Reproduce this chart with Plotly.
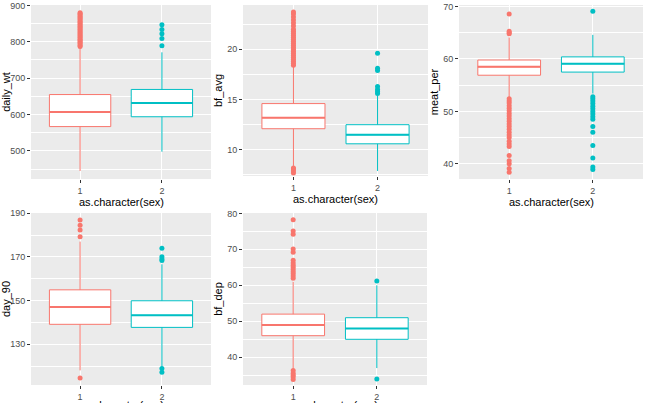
import plotly.graph_objects as go

# ---------------- data ----------------
groups = ["1", "2"]
group_pos = [1, 2]
colors = ["#F8766D", "#00BFC4"]
x_title = "as.character(sex)"

# daily_wt
daily_wt_lower = [445, 498]
daily_wt_q1 = [567, 594]
daily_wt_median = [607, 632]
daily_wt_q3 = [655, 669]
daily_wt_upper = [785, 771]
daily_wt_out_1 = [787, 790, 794, 797, 800, 804, 807, 811, 814, 818, 821, 825, 828, 832,
                  835, 839, 842, 846, 849, 853, 856, 860, 863, 867, 870, 874, 877, 880]
daily_wt_out_2 = [789, 809, 822, 834, 847]
daily_wt_ticks = [500, 600, 700, 800, 900]

# bf_avg
bf_avg_lower = [8.4, 7.9]
bf_avg_q1 = [12.1, 10.6]
bf_avg_median = [13.2, 11.5]
bf_avg_q3 = [14.6, 12.5]
bf_avg_upper = [18.3, 15.4]
bf_avg_out_1 = [7.7, 7.9, 8.1, 8.2,
                18.4, 18.6, 18.8, 19.0, 19.2, 19.4, 19.6, 19.8, 20.0, 20.2, 20.4, 20.6,
                20.8, 21.0, 21.2, 21.4, 21.6, 21.8, 22.0, 22.3, 22.6, 22.9, 23.2, 23.5, 23.7]
bf_avg_out_2 = [15.6, 15.8, 16.0, 16.3, 17.9, 18.1, 19.6]
bf_avg_ticks = [10, 15, 20]

# meat_per
meat_per_lower = [52.6, 53.4]
meat_per_q1 = [56.9, 57.5]
meat_per_median = [58.5, 59.1]
meat_per_q3 = [59.8, 60.4]
meat_per_upper = [64.1, 64.6]
meat_per_out_1 = [38.4, 39.1, 40.0, 40.6, 41.6,
                  43.3, 43.8, 44.3, 45.0, 45.5, 46.0, 46.6, 47.1, 47.6, 48.1, 48.6, 49.1,
                  49.6, 50.1, 50.6, 51.1, 51.6, 52.0, 52.4,
                  64.8, 65.0, 65.3, 68.6]
meat_per_out_2 = [38.9, 39.4, 41.1, 43.5, 46.0, 47.1,
                  48.5, 49.0, 49.5, 50.0, 50.5, 51.0, 51.5, 52.0, 52.4, 52.8, 69.1]
meat_per_ticks = [40, 50, 60, 70]

# day_90
day_90_lower = [118.0, 119.7]
day_90_q1 = [139.1, 137.7]
day_90_median = [147.0, 143.2]
day_90_q3 = [154.9, 149.9]
day_90_upper = [177.0, 166.6]
day_90_out_1 = [114.5, 179.2, 182.3, 184.5, 186.9]
day_90_out_2 = [117.1, 118.9, 168.3, 169.0, 170.1, 173.9]
day_90_ticks = [130, 150, 170, 190]

# bf_dep
bf_dep_lower = [36.9, 37.0]
bf_dep_q1 = [46.0, 45.0]
bf_dep_median = [49.0, 48.0]
bf_dep_q3 = [52.0, 51.0]
bf_dep_upper = [61.0, 60.0]
bf_dep_out_1 = [33.8, 34.5, 35.0, 35.6, 36.3,
                62.0, 62.6, 63.2, 63.8, 64.4, 65.0, 65.6, 66.2, 67.0,
                69.2, 70.1, 74.2, 75.1, 78.2]
bf_dep_out_2 = [34.0, 61.2]
bf_dep_ticks = [40, 50, 60, 70, 80]

# ---------------- panels ----------------
W, H = 646, 403
BOX_W = 0.75

panels = [
    dict(name="daily_wt", lower=daily_wt_lower, q1=daily_wt_q1, med=daily_wt_median,
         q3=daily_wt_q3, upper=daily_wt_upper, out=[daily_wt_out_1, daily_wt_out_2],
         ticks=daily_wt_ticks, rng=[423, 901], px=(31, 211, 5, 179), tgap=15),
    dict(name="bf_avg", lower=bf_avg_lower, q1=bf_avg_q1, med=bf_avg_median,
         q3=bf_avg_q3, upper=bf_avg_upper, out=[bf_avg_out_1, bf_avg_out_2],
         ticks=bf_avg_ticks, rng=[7.4, 24.4], px=(243, 428, 5, 176), tgap=15),
    dict(name="meat_per", lower=meat_per_lower, q1=meat_per_q1, med=meat_per_median,
         q3=meat_per_q3, upper=meat_per_upper, out=[meat_per_out_1, meat_per_out_2],
         ticks=meat_per_ticks, rng=[37.1, 70.3], px=(459, 643, 5, 179), tgap=15),
    dict(name="day_90", lower=day_90_lower, q1=day_90_q1, med=day_90_median,
         q3=day_90_q3, upper=day_90_upper, out=[day_90_out_1, day_90_out_2],
         ticks=day_90_ticks, rng=[111.3, 190.1], px=(31, 211, 213, 385), tgap=12),
    dict(name="bf_dep", lower=bf_dep_lower, q1=bf_dep_q1, med=bf_dep_median,
         q3=bf_dep_q3, upper=bf_dep_upper, out=[bf_dep_out_1, bf_dep_out_2],
         ticks=bf_dep_ticks, rng=[32.3, 80.1], px=(243, 427, 213, 385), tgap=12),
]

fig = go.Figure()
layout = {}
annotations = []
FONT = "Liberation Sans, Arial, sans-serif"

for i, p in enumerate(panels):
    k = "" if i == 0 else str(i + 1)
    xa, ya = "x" + k, "y" + k
    for g in range(2):
        c = colors[g]
        fig.add_trace(go.Box(
            x=[group_pos[g]], q1=[p["q1"][g]], median=[p["med"][g]], q3=[p["q3"][g]],
            lowerfence=[p["lower"][g]], upperfence=[p["upper"][g]],
            width=BOX_W, whiskerwidth=0, fillcolor="white",
            line=dict(color=c, width=1), boxpoints=False,
            xaxis=xa, yaxis=ya, showlegend=False, hoverinfo="skip"))
        fig.add_trace(go.Scatter(
            x=[group_pos[g] - BOX_W / 2, group_pos[g] + BOX_W / 2],
            y=[p["med"][g], p["med"][g]], mode="lines",
            line=dict(color=c, width=2), xaxis=xa, yaxis=ya,
            showlegend=False, hoverinfo="skip"))
        fig.add_trace(go.Scatter(
            x=[group_pos[g]] * len(p["out"][g]), y=p["out"][g], mode="markers",
            marker=dict(color=c, size=5, line=dict(width=0)),
            xaxis=xa, yaxis=ya, showlegend=False, hoverinfo="skip", cliponaxis=False))

    x0, x1, y0, y1 = p["px"]
    ticks = p["ticks"]
    step = ticks[1] - ticks[0]
    layout["xaxis" + k] = dict(
        domain=[x0 / W, x1 / W], anchor=ya, range=[0.4, 2.6],
        tickmode="array", tickvals=group_pos, ticktext=groups,
        showgrid=True, gridcolor="white", gridwidth=1.1, zeroline=False,
        ticks="outside", ticklen=3, tickcolor="#333333", tickwidth=1,
        tickfont=dict(size=9, color="#4D4D4D", family=FONT),
        automargin=False, showline=False, fixedrange=True)
    layout["yaxis" + k] = dict(
        domain=[1 - y1 / H, 1 - y0 / H], anchor=xa, range=p["rng"],
        tickmode="array", tickvals=ticks,
        showgrid=True, gridcolor="white", gridwidth=1.1, zeroline=False,
        minor=dict(tick0=ticks[0] - step / 2, dtick=step / 2, showgrid=True,
                   gridcolor="white", gridwidth=0.5, ticks=""),
        ticks="outside", ticklen=3, tickcolor="#333333", tickwidth=1,
        tickfont=dict(size=9, color="#4D4D4D", family=FONT),
        title=dict(text=p["name"], font=dict(size=11, color="black", family=FONT), standoff=2),
        automargin=False, showline=False, fixedrange=True)
    # x-axis title placed just below the tick labels, as in the reference
    annotations.append(dict(
        text=x_title, xref="paper", yref="paper",
        x=(x0 + x1) / 2 / W, y=1 - (y1 + p["tgap"]) / H, xanchor="center", yanchor="top",
        showarrow=False, font=dict(size=11, color="black", family=FONT)))

fig.update_layout(
    width=W, height=H, margin=dict(l=0, r=0, t=0, b=0),
    paper_bgcolor="white", plot_bgcolor="#EBEBEB",
    font=dict(family=FONT), showlegend=False, annotations=annotations, **layout)

fig.write_html("out.html", config={"displayModeBar": False},
               post_script="document.body.style.margin='0';document.body.style.overflow='hidden';")
